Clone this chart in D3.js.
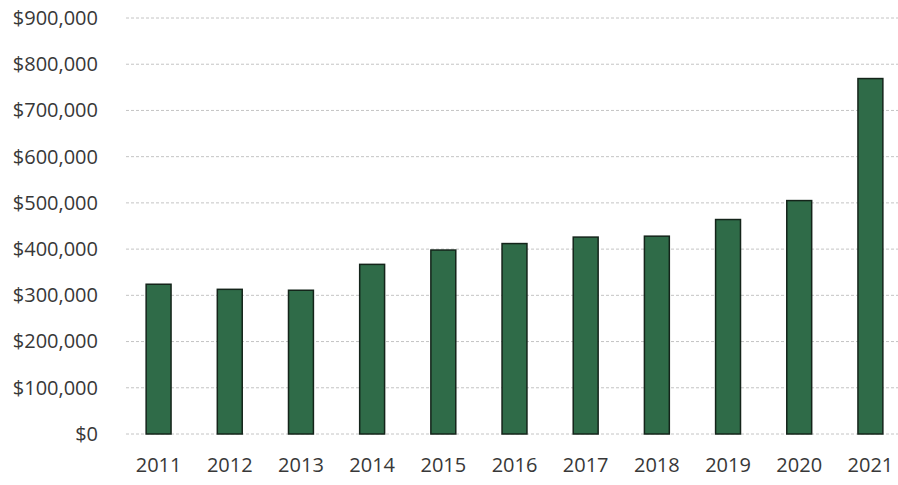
<!DOCTYPE html>
<html>
<head>
<meta charset="utf-8">
<script src="https://cdn.jsdelivr.net/npm/d3@7"></script>
<style>
  html, body { margin: 0; padding: 0; background: #fff; }
  svg { display: block; }
</style>
</head>
<body>
<svg id="chart" width="898" height="485"></svg>
<script>
const years = ["2011","2012","2013","2014","2015","2016","2017","2018","2019","2020","2021"];
const values = [324000, 313000, 311000, 367000, 398000, 412000, 426000, 428000, 464000, 505000, 769000];
const yTicks = [0, 100000, 200000, 300000, 400000, 500000, 600000, 700000, 800000, 900000];

const svg = d3.select("#chart");
const x = d3.scaleBand().domain(years).range([123, 906]).paddingInner(0.65).paddingOuter(0.325);
const y = d3.scaleLinear().domain([0, 900000]).range([434, 18]);

const fmt = v => "$" + d3.format(",")(v);
const FONT = "'Open Sans', 'Noto Sans', sans-serif";

// gridlines
svg.append("g").selectAll("line").data(yTicks).join("line")
  .attr("x1", 126).attr("x2", 898)
  .attr("y1", d => y(d)).attr("y2", d => y(d))
  .attr("stroke", "#c4c4c4").attr("stroke-width", 1)
  .attr("stroke-dasharray", "3,2");

// y axis labels
const yAxis = d3.axisLeft(y).tickValues(yTicks).tickFormat(fmt).tickSize(0).tickPadding(0);
const yg = svg.append("g").attr("transform", "translate(98,0)").call(yAxis);
yg.select(".domain").remove();
yg.selectAll("text").attr("font-family", FONT).attr("font-size", 20).attr("fill", "#383838");

// bars
svg.append("g").selectAll("rect").data(values).join("rect")
  .attr("x", (d, i) => x(years[i]))
  .attr("width", x.bandwidth())
  .attr("y", d => y(d))
  .attr("height", d => y(0) - y(d))
  .attr("fill", "#2f6b48")
  .attr("stroke", "#14241a").attr("stroke-width", 1.5);

// x axis labels
const xAxis = d3.axisBottom(x).tickSize(0).tickPadding(0);
const xg = svg.append("g").attr("transform", "translate(0,458)").call(xAxis);
xg.select(".domain").remove();
xg.selectAll("text").attr("font-family", FONT).attr("font-size", 20).attr("fill", "#383838");
</script>
</body>
</html>
